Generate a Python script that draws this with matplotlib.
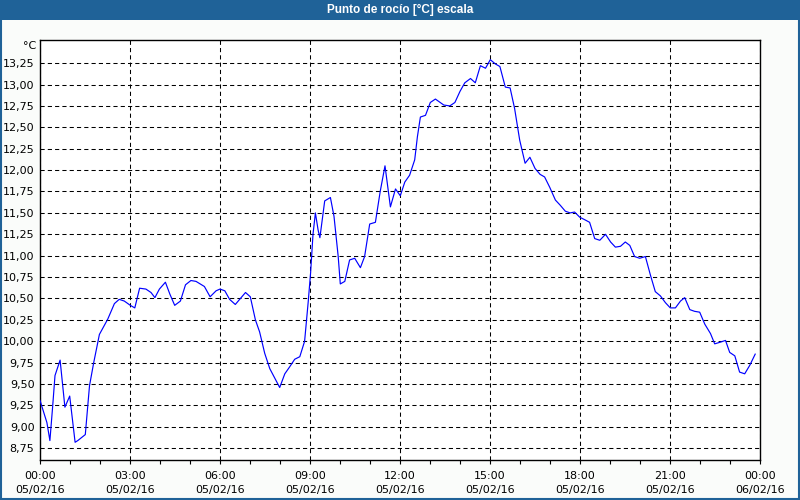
import matplotlib
matplotlib.use("Agg")
import matplotlib.pyplot as plt
from matplotlib.patches import Rectangle

title = "Punto de rocío [°C] escala"
unit_label = "°C"

hours = [0.00, 0.23, 0.33, 0.42, 0.50, 0.67, 0.83, 0.99, 1.17, 1.26, 1.51, 1.65, 1.79, 1.87, 1.98,
         2.26, 2.48, 2.64, 2.81, 3.01, 3.16, 3.32, 3.53, 3.70, 3.83, 3.98, 4.18, 4.33, 4.49, 4.68,
         4.85, 5.03, 5.20, 5.48, 5.67, 5.87, 6.00, 6.16, 6.32, 6.51, 6.85, 7.01, 7.18, 7.32, 7.49,
         7.66, 7.99, 8.16, 8.32, 8.49, 8.66, 8.82, 8.94, 9.02, 9.10, 9.18, 9.27, 9.33, 9.49, 9.68,
         9.80, 9.94, 10.01, 10.16, 10.32, 10.49, 10.68, 10.82, 10.99, 11.18, 11.34, 11.50, 11.68,
         11.85, 12.01, 12.16, 12.32, 12.49, 12.58, 12.68, 12.85, 13.01, 13.18, 13.46, 13.66, 13.83,
         14.00, 14.16, 14.35, 14.51, 14.68, 14.85, 15.01, 15.18, 15.33, 15.51, 15.67, 15.82, 15.99,
         16.17, 16.33, 16.50, 16.67, 16.82, 16.99, 17.18, 17.34, 17.51, 17.67, 17.82, 17.99, 18.16,
         18.32, 18.49, 18.66, 18.85, 19.02, 19.18, 19.35, 19.51, 19.66, 19.82, 19.99, 20.18, 20.35,
         20.51, 20.68, 20.85, 21.01, 21.18, 21.35, 21.49, 21.66, 21.82, 21.99, 22.16, 22.35, 22.49,
         22.68, 22.85, 22.99, 23.16, 23.32, 23.49, 23.66, 23.84]
dew_point = [9.31, 9.05, 8.84, 9.23, 9.60, 9.78, 9.23, 9.36, 8.82, 8.84, 8.91, 9.48, 9.75, 9.89, 10.08,
             10.26, 10.44, 10.49, 10.47, 10.42, 10.39, 10.62, 10.61, 10.57, 10.51, 10.61, 10.69, 10.55, 10.42, 10.47,
             10.66, 10.71, 10.70, 10.64, 10.52, 10.59, 10.61, 10.59, 10.49, 10.43, 10.57, 10.52, 10.25, 10.11, 9.86,
             9.68, 9.46, 9.62, 9.70, 9.79, 9.82, 10.00, 10.46, 10.80, 11.25, 11.50, 11.30, 11.21, 11.64, 11.68,
             11.46, 10.99, 10.67, 10.70, 10.95, 10.97, 10.86, 10.99, 11.37, 11.39, 11.75, 12.05, 11.57,
             11.78, 11.70, 11.86, 11.94, 12.12, 12.39, 12.62, 12.64, 12.79, 12.83, 12.76, 12.75, 12.79,
             12.92, 13.02, 13.07, 13.02, 13.22, 13.19, 13.29, 13.24, 13.21, 12.97, 12.96, 12.72, 12.35,
             12.08, 12.15, 12.02, 11.95, 11.92, 11.80, 11.65, 11.59, 11.52, 11.50, 11.51, 11.45, 11.42,
             11.39, 11.20, 11.18, 11.25, 11.16, 11.10, 11.11, 11.16, 11.12, 10.99, 10.97, 10.99, 10.77,
             10.58, 10.53, 10.45, 10.39, 10.39, 10.47, 10.51, 10.37, 10.35, 10.34, 10.20, 10.09, 9.97,
             9.99, 10.01, 9.87, 9.83, 9.64, 9.62, 9.72, 9.85]

x_tick_hours = [0, 3, 6, 9, 12, 15, 18, 21, 24]
x_tick_labels = ["00:00\n05/02/16", "03:00\n05/02/16", "06:00\n05/02/16", "09:00\n05/02/16",
                 "12:00\n05/02/16", "15:00\n05/02/16", "18:00\n05/02/16", "21:00\n05/02/16",
                 "00:00\n06/02/16"]
y_ticks = [8.75, 9.00, 9.25, 9.50, 9.75, 10.00, 10.25, 10.50, 10.75, 11.00, 11.25, 11.50,
           11.75, 12.00, 12.25, 12.50, 12.75, 13.00, 13.25]
y_tick_labels = [f"{v:.2f}".replace(".", ",") for v in y_ticks]

W, H = 800, 500
fig = plt.figure(figsize=(8, 5), dpi=100, facecolor="#fafcfa")
blue = "#1f6298"

# title bar and frame
fig.patches.append(Rectangle((0, 1 - 20 / H), 1, 20 / H, transform=fig.transFigure,
                             facecolor=blue, edgecolor="none", zorder=0))
fig.patches.append(Rectangle((1 / W, 1 / H), 1 - 2 / W, 1 - 2 / H, transform=fig.transFigure,
                             facecolor="none", edgecolor=blue, linewidth=1.5, zorder=5))
fig.text(0.5, 1 - 10 / H, title, color="white", fontsize=8.5, fontweight="bold",
         ha="center", va="center", family="Liberation Sans")

ax = fig.add_axes([40 / W, 40 / H, 720 / W, 420 / H])
ax.set_facecolor("white")
ax.plot(hours, dew_point, color="#0000ff", linewidth=0.85, zorder=3)

ax.set_xlim(0, 24)
ax.set_ylim(8.613, 13.52)

ax.set_xticks(x_tick_hours)
ax.set_xticklabels(x_tick_labels, fontsize=8, linespacing=1.45)
ax.set_xticks(range(0, 25), minor=True)
ax.set_yticks(y_ticks)
ax.set_yticklabels(y_tick_labels, fontsize=8)

ax.tick_params(axis="x", which="both", direction="out", length=3, width=0.8, pad=5, colors="black")
ax.tick_params(axis="y", length=0, pad=4)

ax.grid(True, which="major", color="black", linewidth=0.75, linestyle=(0, (4, 3)))
for s in ax.spines.values():
    s.set_color("black")
    s.set_linewidth(1)

fig.text(36 / W, 1 - 46 / H, unit_label, fontsize=8, ha="right", va="center")

fig.savefig("out.png", dpi=100, facecolor=fig.get_facecolor())
